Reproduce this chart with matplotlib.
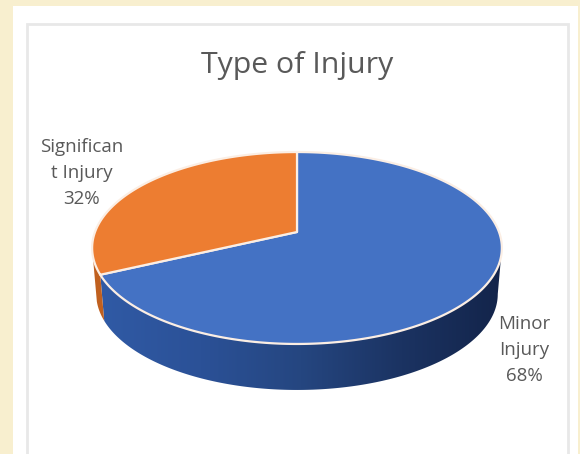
import matplotlib
matplotlib.use('Agg')
import matplotlib.pyplot as plt
from matplotlib.colors import LinearSegmentedColormap
from matplotlib.patches import Polygon, Rectangle
import numpy as np

title = 'Type of Injury'
labels = ['Minor\nInjury\n68%', 'Significan\nt Injury\n32%']
shares = [68, 32]
colors = ['#4472c4', '#ed7d31']

plt.rcParams['font.family'] = ['Open Sans', 'DejaVu Sans']

# tilted pie, pixel units
APEX_X, APEX_Y = 297, 232
RX, RY, TILT = 202, 93.3, 1 / 6
DEPTH = 46
BASE_SCALE = 0.98  # lower rim is a bit narrower than the top one


def rim(theta, scale=1.0, drop=0):
    # circle seen in perspective, so the centre sits above the middle of the ellipse
    d = 1 + TILT * np.sin(theta)
    return APEX_X + scale * RX * np.cos(theta) / d, APEX_Y - RY * np.sin(theta) / d + drop


fig = plt.figure(figsize=(5.8, 4.54), dpi=100, facecolor='#f8efcf')
ax = fig.add_axes([0, 0, 1, 1])
ax.set_xlim(0, 580)
ax.set_ylim(454, 0)
ax.axis('off')

ax.add_patch(Rectangle((13, 6), 565, 450, fc='white', ec='none'))
ax.add_patch(Rectangle((26.5, 23.5), 541.5, 440, fc='white', ec='#e8e8e8', lw=2))

# slice angles, clockwise from the top
edges = 90 - np.cumsum([0] + shares) * 3.6
split = np.radians(edges[1])
right_end = -np.arcsin(TILT)
left_end = np.radians(-166)

# dark side wall of the big slice
t = np.linspace(right_end, split, 200)
x, y = rim(t)
xb, yb = rim(t, BASE_SCALE, DEPTH)
wall = np.column_stack([np.r_[x, xb[::-1]], np.r_[y, yb[::-1]]])
shade = LinearSegmentedColormap.from_list('wall', ['#305aa5', '#2b5197', '#254680', '#1b3362', '#13244a'])
patch = Polygon(wall, fc='none', ec='none')
ax.add_patch(patch)
im = ax.imshow(np.linspace(0, 1, 256).reshape(1, -1), cmap=shade, aspect='auto',
               extent=[100, 503, 454, 0], zorder=1)
im.set_clip_path(patch)
ax.set_xlim(0, 580)
ax.set_ylim(454, 0)

# small piece of side wall of the orange slice
t = np.linspace(split, left_end, 40)
x, y = rim(t)
xb, yb = rim(t, BASE_SCALE, DEPTH)
ax.fill(np.r_[x, xb[::-1]], np.r_[y, yb[::-1]], fc='#c0601f', ec='none', zorder=1)

# top faces
for i in range(len(shares)):
    t = np.radians(np.linspace(edges[i], edges[i + 1], 300))
    x, y = rim(t)
    ax.fill(np.r_[APEX_X, x], np.r_[APEX_Y, y], fc=colors[i], ec='#fbeee4', lw=1.6,
            joinstyle='round', zorder=2)

ax.text(297, 66, title, ha='center', va='center', fontsize=21.8, color='#595959')
ax.text(524, 350, labels[0], ha='center', va='center', fontsize=13.5, color='#595959', linespacing=1.55)
ax.text(82, 173, labels[1], ha='center', va='center', fontsize=13.5, color='#595959', linespacing=1.55)

fig.savefig('out.png', dpi=100, facecolor=fig.get_facecolor())
